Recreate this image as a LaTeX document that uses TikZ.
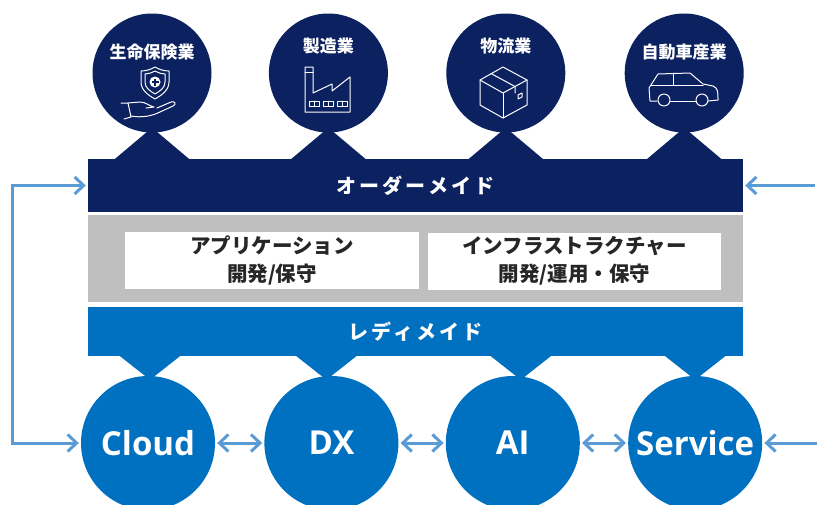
\documentclass[tikz,border=0pt]{standalone}
\usepackage{fontspec}
\newfontfamily\jpfont{Noto Sans CJK JP}
\newfontfamily\jpwide{Noto Sans CJK JP}[LetterSpace=15]
\newfontfamily\latinfont{Open Sans}
\usetikzlibrary{arrows.meta, positioning}
\definecolor{ordernavy}{HTML}{0B2160}
\definecolor{readyblue}{HTML}{0070C0}
\definecolor{midgray}{HTML}{BFBFBF}
\definecolor{flowblue}{HTML}{5B9BD5}
\definecolor{textgray}{HTML}{262626}

\begin{document}
\begin{tikzpicture}[x=1pt, y=-1pt]
	\tikzset {>={Straight Barb[length=9pt, width=17pt]},
		topcirc/.style={circle, fill=ordernavy, minimum size=119pt, inner sep=0pt},
		botcirc/.style={circle, fill=readyblue, minimum size=134pt, inner sep=0pt, text=white, font=\latinfont\bfseries\fontsize{33}{36}\selectfont},
		bar/.style={minimum width=655pt, inner sep=0pt, text=white, font=\jpwide\bfseries\fontsize{20}{24}\selectfont},
		whitebox/.style={fill=white, minimum height=57pt, inner sep=0pt, align=center, text=textgray, font=\jpfont\bfseries\fontsize{20.5}{28}\selectfont},
		toplabel/.style={text=white, inner sep=0pt, font=\jpfont\bfseries\fontsize{17}{19}\selectfont},
		icon/.style={draw=white, line width=1pt, line join=round, line cap=round},
		flow/.style={draw=flowblue, line width=3pt, shorten >=2pt, shorten <=2pt} }
	\useasboundingbox (0,0) rectangle (817,504);

	% industries
	\node[topcirc] (ins) at (152,73) {};
	\node[topcirc, right=57pt of ins] (mfg) {};
	\node[topcirc, right=58pt of mfg] (logi) {};
	\node[topcirc, right=59pt of logi] (auto) {};
	\node[toplabel] (insT) at ([yshift=21pt]ins.center) {生命保険業};
	\node[toplabel] (mfgT) at ([yshift=27pt]mfg.center) {製造業};
	\node[toplabel] (logiT) at ([yshift=27pt]logi.center) {物流業};
	\node[toplabel] (autoT) at ([yshift=21pt]auto.center) {自動車産業};

	% layers
	\node[bar, fill=ordernavy, minimum height=53pt] (order) at (415.5,185.5) {オーダーメイド};
	\node[bar, fill=midgray, minimum height=87pt, below=3pt of order] (mid) {};
	\node[bar, fill=readyblue, minimum height=49pt, below=4pt of mid] (ready) {レディメイド};
	\node[whitebox, minimum width=294pt] (app) at (272,260.5) {アプリケーション\\開発/保守};
	\node[whitebox, minimum width=293pt] (infra) at (574.5,261) {インフラストラクチャー\\開発/運用・保守};

	\fill[ordernavy] (ins.south) ++(-38,27) -- ++(38,-32) -- ++(38,32) -- cycle;
	\fill[ordernavy] (mfg.south) ++(-38,27) -- ++(38,-32) -- ++(38,32) -- cycle;
	\fill[ordernavy] (logi.south) ++(-38,27) -- ++(38,-32) -- ++(38,32) -- cycle;
	\fill[ordernavy] (auto.south) ++(-38,27) -- ++(38,-32) -- ++(38,32) -- cycle;

	% services
	\node[botcirc] (cloud) at (148,443) {Cloud};
	\node[botcirc, right=49pt of cloud] (dx) {DX};
	\node[botcirc, right=47pt of dx] (ai) {AI};
	\node[botcirc, right=48pt of ai] (service) {Service};

	\fill[readyblue] (cloud.north) ++(-31,-22) -- ++(33,26) -- ++(33,-26) -- cycle;
	\fill[readyblue] (dx.north) ++(-38,-22) -- ++(33,26) -- ++(33,-26) -- cycle;
	\fill[readyblue] (ai.north) ++(-25,-22) -- ++(33,26) -- ++(33,-26) -- cycle;
	\fill[readyblue] (service.north) ++(-33,-22) -- ++(33,26) -- ++(33,-26) -- cycle;

	% arrows
	\coordinate (loopL) at (12,300);
	\coordinate[right=74pt of order.east] (inR);
	\coordinate[right=60pt of service.east] (inS);
	\draw[flow, <->] (order.west) -| (loopL) |- (cloud.west);
	\draw[flow, ->] (inR) -- (order.east);
	\draw[flow, ->] (inS) -- (service.east);
	\draw[flow, <->] (cloud) -- (dx);
	\draw[flow, <->] (dx) -- (ai);
	\draw[flow, <->] (ai) -- (service);

	% icons
	\draw[icon] (155,67) .. controls (150,70) and (145,71) .. (141,71) -- (141,82) .. controls (141,90) and (148,95) .. (155,99) .. controls (162,95) and (169,90) .. (169,82) -- (169,71) .. controls (165,71) and (160,70) .. (155,67) -- cycle;
	\draw[icon] (155,71) .. controls (151,73) and (148,74) .. (145,74) -- (145,82) .. controls (145,88) and (150,91) .. (155,94) .. controls (160,91) and (165,88) .. (165,82) -- (165,74) .. controls (162,74) and (159,73) .. (155,71) -- cycle;
	\fill[white] (155,82) circle (5.5);
	\fill[ordernavy] (153.8,78.5) rectangle (156.2,85.5);
	\fill[ordernavy] (151.5,80.8) rectangle (158.5,83.2);
	\draw[icon] (121,103) -- (128,103) -- (131,117) -- (124,119);
	\draw[icon] (128,103) -- (140,102) .. controls (146,102) and (149,106) .. (154,107) -- (146,108);
	\draw[icon] (131,116) .. controls (142,118) and (152,116) .. (160,112) -- (173,106) .. controls (177,104) and (175,101) .. (171,102) -- (157,108);

	\draw[icon] (305,112) -- (305,67) -- (313,67) -- (313,93) -- (332,84) -- (332,91) -- (350,77) -- (350,112) -- cycle;
	\draw[icon] (305,72) -- (313,72);
	\draw[icon] (309,101) rectangle (319,106) (314,101) -- (314,106);
	\draw[icon] (323,101) rectangle (333,106) (328,101) -- (328,106);
	\draw[icon] (337,101) rectangle (347,106) (342,101) -- (342,106);

	\draw[icon] (503,67) -- (527,80) -- (527,105) -- (503,118) -- (480,105) -- (480,80) -- cycle;
	\draw[icon] (480,80) -- (503,93) -- (527,80);
	\draw[icon] (503,93) -- (503,118);
	\draw[icon] (491,73.5) -- (515,86.5) -- (515,93);
	\draw[icon] (518,95) -- (522,93) -- (522,97) -- (518,99) -- cycle;

	\draw[icon] (657,101) -- (650,101) -- (649,88) -- (658,74) -- (690,73) -- (703,84) -- (713,86) .. controls (718,88) and (718,92) .. (718,100) -- (708,101);
	\draw[icon] (670,101) -- (696,101);
	\draw[icon] (664,100) circle (6) (702,100) circle (6);
	\draw[icon] (651,85) -- (703,85) (673,73) -- (673,85);
\end{tikzpicture}
\end{document}
